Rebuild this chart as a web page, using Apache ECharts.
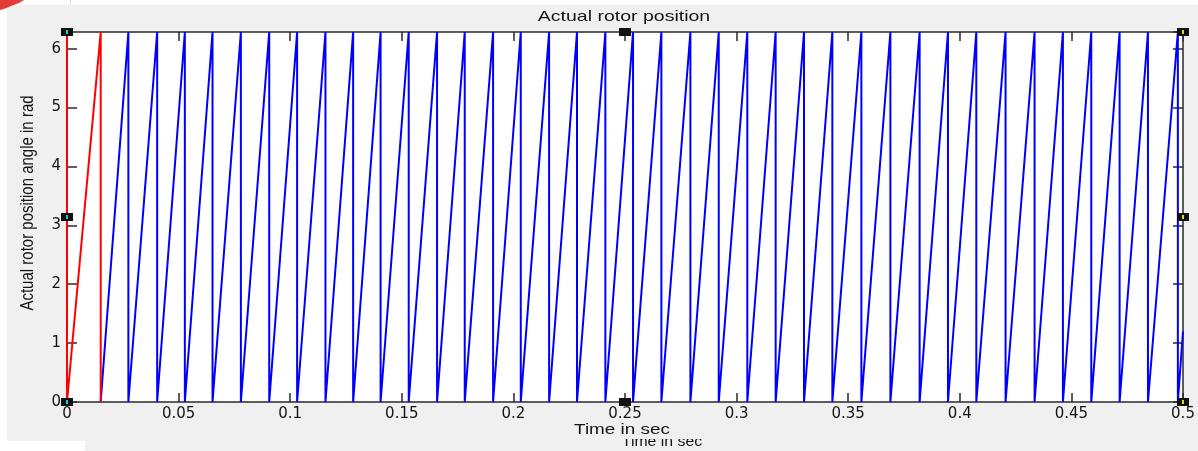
<!DOCTYPE html>
<html>
<head>
<meta charset="utf-8">
<title>Actual rotor position</title>
<script src="https://cdn.jsdelivr.net/npm/echarts@6/dist/echarts.min.js"></script>
<style>
  html, body { margin: 0; padding: 0; background: #ffffff; }
  #chart { width: 1198px; height: 451px; }
</style>
</head>
<body>
<div id="chart"></div>
<script>
// Rotor angle wraps between 0 and 2*pi rad
const ANGLE_MIN = 0;
const ANGLE_MAX = 2 * Math.PI;

// Start-up ramp (red): time at which the first wrap happens, s
const startupWrap = 0.0151;

// Running sawtooth (blue): times at which the angle wraps back to 0, s
const wrapTimes = [
  0.0275, 0.0404, 0.0528, 0.0652, 0.0779, 0.0906, 0.1031, 0.1158,
  0.1282, 0.1405, 0.1531, 0.1658, 0.1782, 0.1909, 0.2033, 0.2160,
  0.2285, 0.2412, 0.2536, 0.2663, 0.2793, 0.2920, 0.3048, 0.3175,
  0.3302, 0.3429, 0.3559, 0.3689, 0.3820, 0.3947, 0.4074, 0.4205,
  0.4335, 0.4462, 0.4589, 0.4716, 0.4843, 0.4977
];

// Angle reached at the end of the simulation, rad
const endTime = 0.5;
const endAngle = 1.2;

// Axis ticks
const xTicks = [0, 0.05, 0.1, 0.15, 0.2, 0.25, 0.3, 0.35, 0.4, 0.45, 0.5];
const yTicks = [0, 1, 2, 3, 4, 5, 6];

// Sawtooth vertices: ramp up to 2*pi, then drop to 0 at every wrap
const redData = [[0, ANGLE_MAX], [0, ANGLE_MIN], [startupWrap, ANGLE_MAX], [startupWrap, ANGLE_MIN]];
const blueData = [[startupWrap, ANGLE_MIN]];
wrapTimes.forEach(function (t) {
  blueData.push([t, ANGLE_MAX]);
  blueData.push([t, ANGLE_MIN]);
});
blueData.push([endTime, endAngle]);

// Plot box in pixels
const G = { left: 67, top: 32, width: 1116, height: 370 };
const BG = '#f0f0f0';
const AXIS = '#2a2a2a';
const TXT = '#151515';

const chart = echarts.init(document.getElementById('chart'), null, { renderer: 'canvas' });

function handle(cx, cy, accent) {
  return [
    { type: 'rect', z: 200, shape: { x: cx - 6, y: cy - 4, width: 12, height: 8 }, style: { fill: '#111111' } },
    { type: 'rect', z: 201, shape: { x: cx - 1, y: cy - 2, width: 2, height: 4 }, style: { fill: accent } }
  ];
}

const xMid = G.left + G.width / 2;
const yMid = G.top + G.height / 2;
const xR = G.left + G.width;
const yB = G.top + G.height;

const graphics = [
  // figure background
  { type: 'rect', z: -10, silent: true, shape: { x: 7, y: 5, width: 1191, height: 446 }, style: { fill: BG } },
  { type: 'rect', z: -9, silent: true, shape: { x: 0, y: 441, width: 85, height: 10 }, style: { fill: '#ffffff' } },
  { type: 'line', z: -9, shape: { x1: 70.5, y1: 0, x2: 70.5, y2: 5 }, style: { stroke: '#dddddd', lineWidth: 1 } },
  { type: 'polygon', z: -8, shape: { points: [[0, 0], [24, 0], [19, 3], [11, 6], [4, 9], [0, 10]] }, style: { fill: '#e33a3a' } },
  // title
  { type: 'text', z: 100, x: 624, y: 17, scaleX: 1.3,
    style: { text: 'Actual rotor position', font: '15px "Liberation Sans", Arial, sans-serif', fill: TXT, align: 'center', verticalAlign: 'middle' } },
  // partially hidden duplicate of the time label
  { type: 'text', z: 90, x: 662, y: 449, scaleX: 1.13,
    style: { text: 'Time in sec', font: '14px "Liberation Sans", Arial, sans-serif', fill: TXT, align: 'center', verticalAlign: 'bottom' } },
  { type: 'rect', z: 95, silent: true, shape: { x: 600, y: 424, width: 120, height: 15 }, style: { fill: BG } },
  // x axis name
  { type: 'text', z: 100, x: 622, y: 430, scaleX: 1.35,
    style: { text: 'Time in sec', font: '14px "Liberation Sans", Arial, sans-serif', fill: TXT, align: 'center', verticalAlign: 'middle' } },
  // y axis name
  { type: 'text', z: 100, x: 28, y: 203, rotation: Math.PI / 2, scaleY: 1.25,
    style: { text: 'Actual rotor position angle in rad', font: '15px "Liberation Sans", Arial, sans-serif', fill: TXT, align: 'center', verticalAlign: 'middle' } }
]
  .concat(handle(G.left, G.top, '#22cccc'))
  .concat(handle(xMid, G.top, '#111111'))
  .concat(handle(xR, G.top, '#dddd22'))
  .concat(handle(G.left, yMid, '#22cccc'))
  .concat(handle(xR, yMid, '#dddd22'))
  .concat(handle(G.left, yB, '#22cccc'))
  .concat(handle(xMid, yB, '#111111'))
  .concat(handle(xR, yB, '#dddd22'));

const tickLabelFont = { fontFamily: '"DejaVu Sans", sans-serif', fontSize: 15, color: TXT };

const xBase = {
  type: 'value',
  min: xTicks[0],
  max: xTicks[xTicks.length - 1],
  interval: xTicks[1] - xTicks[0],
  axisLine: { show: true, onZero: false, lineStyle: { color: AXIS, width: 1.5 } },
  axisTick: { show: true, inside: true, length: 9, lineStyle: { color: AXIS, width: 1.5 } },
  splitLine: { show: false }
};
const yBase = {
  type: 'value',
  min: ANGLE_MIN,
  max: ANGLE_MAX,
  interval: yTicks[1] - yTicks[0],
  axisLine: { show: true, onZero: false, lineStyle: { color: AXIS, width: 1.5 } },
  axisTick: { show: true, inside: true, length: 10, lineStyle: { color: AXIS, width: 1.5 } },
  splitLine: { show: false }
};

chart.setOption({
  animation: false,
  backgroundColor: 'transparent',
  graphic: graphics,
  grid: {
    left: G.left, top: G.top, width: G.width, height: G.height,
    show: true, backgroundColor: '#ffffff', borderWidth: 0, containLabel: false
  },
  xAxis: [
    Object.assign({}, xBase, {
      position: 'bottom',
      axisLabel: Object.assign({ show: true, margin: 5 }, tickLabelFont, {
        formatter: function (v) { return String(+v.toFixed(2)); }
      })
    }),
    Object.assign({}, xBase, { position: 'top', axisLabel: { show: false } })
  ],
  yAxis: [
    Object.assign({}, yBase, {
      position: 'left',
      axisLabel: Object.assign({ show: true, margin: 6, showMaxLabel: false }, tickLabelFont, {
        formatter: function (v) { return yTicks.indexOf(v) >= 0 ? String(v) : ''; }
      })
    }),
    Object.assign({}, yBase, { position: 'right', axisLabel: { show: false } })
  ],
  series: [
    {
      name: 'startup', type: 'line', xAxisIndex: 0, yAxisIndex: 0,
      data: redData, showSymbol: false, symbol: 'none', smooth: false,
      lineStyle: { color: '#ff0000', width: 2 }, z: 3
    },
    {
      name: 'running', type: 'line', xAxisIndex: 0, yAxisIndex: 0,
      data: blueData, showSymbol: false, symbol: 'none', smooth: false,
      lineStyle: { color: '#0000ff', width: 2 }, z: 2
    }
  ]
});
</script>
</body>
</html>
